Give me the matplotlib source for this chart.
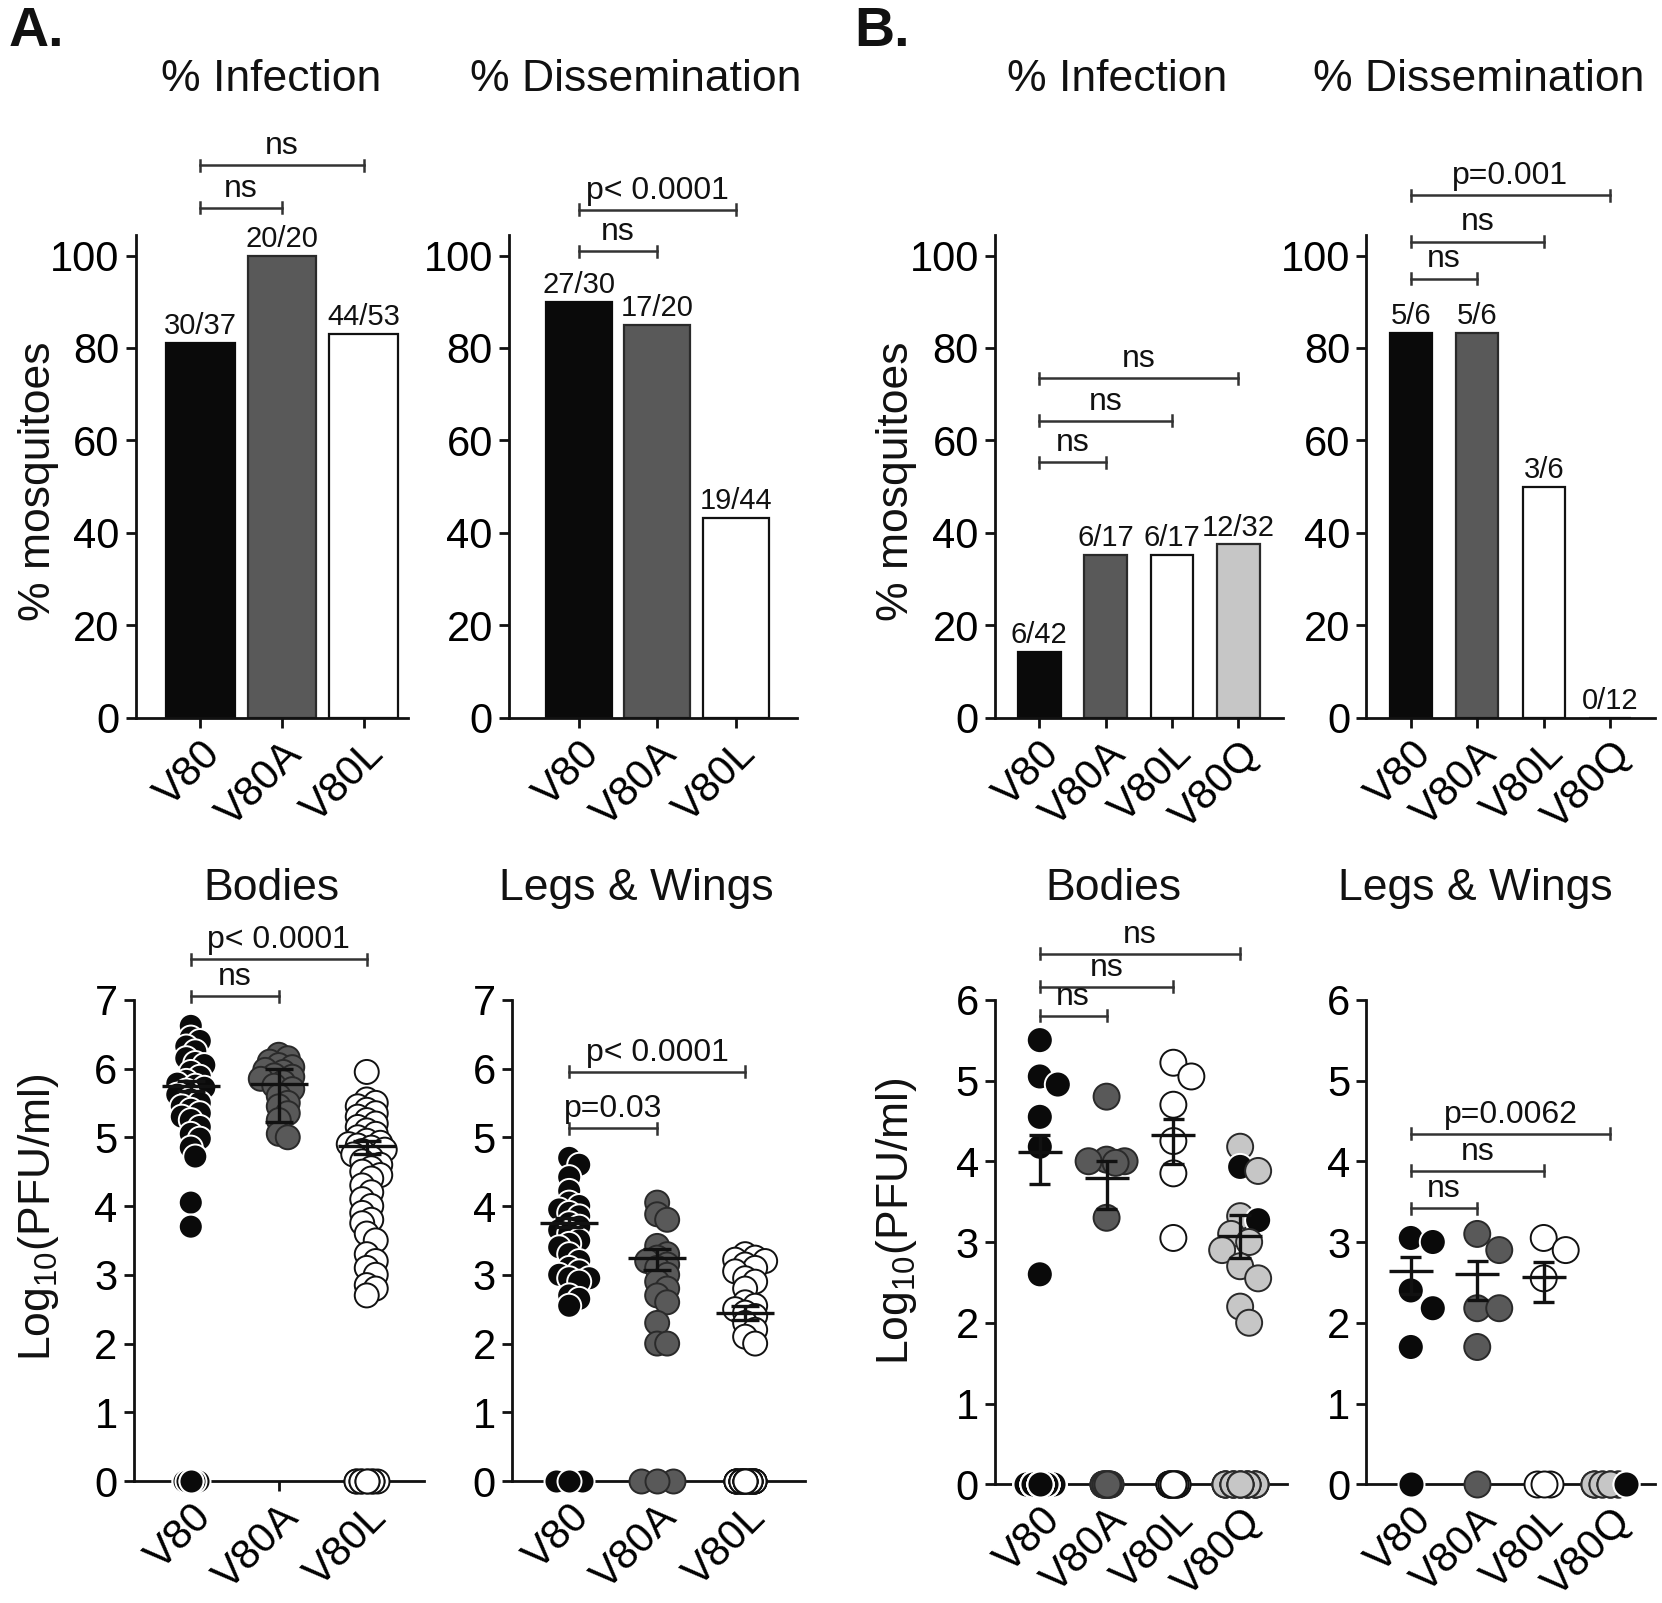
import numpy as np
import matplotlib.pyplot as plt

plt.rcParams['font.family'] = ['Liberation Sans', 'DejaVu Sans']
plt.rcParams['mathtext.fontset'] = 'custom'
plt.rcParams['mathtext.rm'] = 'Liberation Sans'

W, H = 1662, 1603
DW, DH = 1568, 1512  # layout measured on this scale

groups3 = ['V80', 'V80A', 'V80L']
groups4 = ['V80', 'V80A', 'V80L', 'V80Q']
fill = {'k': '#0a0a0a', 'd': '#595959', 'w': '#ffffff', 'q': '#c6c6c6'}
edge = {'k': '#ffffff', 'd': '#2a2a2a', 'w': '#111111', 'q': '#2a2a2a'}
bar_edge = {'k': '#0a0a0a', 'd': '#2a2a2a', 'w': '#111111', 'q': '#2a2a2a'}
col3 = ['k', 'd', 'w']
col4 = ['k', 'd', 'w', 'q']

# bar panels: infected / total
a_inf_num = [30, 20, 44]
a_inf_den = [37, 20, 53]
a_dis_num = [27, 17, 19]
a_dis_den = [30, 20, 44]
b_inf_num = [6, 6, 6, 12]
b_inf_den = [42, 17, 17, 32]
b_dis_num = [5, 5, 3, 0]
b_dis_den = [6, 6, 6, 12]

# significance brackets (from group 0 to group j, height, label)
a_inf_sig = [(1, 110.3, 'ns'), (2, 119.5, 'ns')]
a_dis_sig = [(1, 100.9, 'ns'), (2, 109.9, 'p< 0.0001')]
b_inf_sig = [(1, 55.3, 'ns'), (2, 64.2, 'ns'), (3, 73.4, 'ns')]
b_dis_sig = [(1, 95.0, 'ns'), (2, 103.0, 'ns'), (3, 113.0, 'p=0.001')]

# titers, log10 PFU/ml (positives) and number of zeros
a_bod_v80 = [6.62, 6.45, 6.40, 6.32, 6.25, 6.15, 6.08, 6.05, 5.95, 5.88, 5.82, 5.78, 5.75,
             5.72, 5.68, 5.62, 5.55, 5.5, 5.45, 5.4, 5.35, 5.3, 5.25, 5.15, 5.05, 4.98,
             4.85, 4.72, 4.05, 3.7]
a_bod_v80a = [6.2, 6.15, 6.1, 6.05, 6.02, 5.98, 5.95, 5.9, 5.88, 5.85, 5.8, 5.75, 5.7,
              5.6, 5.5, 5.45, 5.35, 5.25, 5.05, 5.0]
a_bod_v80l = [5.95, 5.55, 5.5, 5.45, 5.4, 5.35, 5.3, 5.25, 5.2, 5.15, 5.1, 5.05, 5.0,
              4.95, 4.92, 4.9, 4.88, 4.85, 4.82, 4.8, 4.75, 4.7, 4.65, 4.6, 4.55, 4.5,
              4.45, 4.4, 4.3, 4.2, 4.1, 4.0, 3.9, 3.8, 3.75, 3.6, 3.5, 3.3, 3.2, 3.1,
              3.0, 2.85, 2.8, 2.7]
a_bod_zeros = [7, 0, 9]
a_bod_mean = [5.75, 5.78, 4.88]
a_bod_lo = [5.68, 5.22, 4.76]
a_bod_hi = [5.82, 6.0, 4.95]
a_bod_sig = [(1, 7.05, 'ns'), (2, 7.59, 'p< 0.0001')]

a_lw_v80 = [4.7, 4.6, 4.42, 4.22, 4.05, 4.0, 3.95, 3.9, 3.85, 3.75, 3.7, 3.65, 3.6, 3.5,
            3.45, 3.4, 3.3, 3.2, 3.1, 3.05, 3.0, 2.95, 2.95, 2.9, 2.7, 2.65, 2.55]
a_lw_v80a = [4.05, 3.88, 3.8, 3.42, 3.3, 3.25, 3.2, 3.15, 3.1, 3.0, 2.9, 2.8, 2.7, 2.6,
             2.3, 2.0, 2.0]
a_lw_v80l = [3.3, 3.25, 3.22, 3.2, 3.15, 3.1, 3.05, 2.95, 2.9, 2.8, 2.6, 2.55, 2.5, 2.45,
             2.4, 2.3, 2.2, 2.1, 2.0]
a_lw_zeros = [3, 3, 25]
a_lw_mean = [3.76, 3.25, 2.44]
a_lw_lo = [3.70, 3.07, 2.34]
a_lw_hi = [3.82, 3.38, 2.55]
a_lw_sig = [(1, 5.13, 'p=0.03'), (2, 5.95, 'p< 0.0001')]

b_bod_v80 = [5.5, 5.05, 4.95, 4.55, 4.18, 2.6]
b_bod_v80a = [4.8, 4.02, 4.0, 4.0, 3.98, 3.3]
b_bod_v80l = [5.22, 5.05, 4.7, 4.25, 3.85, 3.05]
b_bod_v80q = [4.18, 3.93, 3.88, 3.32, 3.27, 3.1, 3.0, 2.9, 2.7, 2.55, 2.2, 2.0]
b_bod_v80q_col = ['q', 'k', 'q', 'q', 'k', 'q', 'q', 'q', 'q', 'q', 'q', 'q']
b_bod_zeros = [36, 11, 11, 20]
b_bod_mean = [4.12, 3.79, 4.33, 3.07]
b_bod_lo = [3.72, 3.41, 3.97, 2.80]
b_bod_hi = [4.32, 4.00, 4.52, 3.34]
b_bod_sig = [(1, 5.8, 'ns'), (2, 6.16, 'ns'), (3, 6.57, 'ns')]

b_lw_v80 = [3.05, 3.0, 2.4, 2.18, 1.7]
b_lw_v80a = [3.1, 2.9, 2.18, 2.18, 1.7]
b_lw_v80l = [3.05, 2.9, 2.55]
b_lw_v80q = []
b_lw_zeros = [1, 1, 3, 12]
b_lw_v80q_zero_col = ['q'] * 10 + ['k'] * 2
b_lw_mean = [2.64, 2.60, 2.57]
b_lw_lo = [2.36, 2.28, 2.26]
b_lw_hi = [2.81, 2.77, 2.75]
b_lw_sig = [(1, 3.42, 'ns'), (2, 3.88, 'ns'), (3, 4.34, 'p=0.0062')]

fig = plt.figure(figsize=(W / 100, H / 100), dpi=100)


def make_ax(spine_x, c0, dx, names, right_x, y0, ytop, ylim, yticks):
    n = len(names)
    ax = fig.add_axes([spine_x / DW, 1 - y0 / DH, (right_x - spine_x) / DW, (y0 - ytop) / DH])
    ax.set_xlim(-(c0 - spine_x) / dx, (right_x - c0) / dx)
    ax.set_ylim(*ylim)
    for s in ['top', 'right']:
        ax.spines[s].set_visible(False)
    for s in ['left', 'bottom']:
        ax.spines[s].set_linewidth(2.0)
        ax.spines[s].set_color('#111111')
    ax.set_yticks(yticks)
    ax.set_xticks(range(n))
    ax.set_xticklabels(names, rotation=45, ha='right', va='top', rotation_mode='anchor')
    ax.tick_params(width=2.0, length=7.5, labelsize=30, color='#111111', pad=4)
    ax.tick_params(axis='x', pad=4)
    ax.patch.set_alpha(0)
    return ax


def px_per_unit(ax):
    p0 = ax.transData.transform((0, 0))
    p1 = ax.transData.transform((1, 1))
    return p1[0] - p0[0], p1[1] - p0[1]


def brackets(ax, sig):
    _, ypp = px_per_unit(ax)
    h = 5.5 / ypp
    for j, y, lab in sig:
        ax.plot([0, j], [y, y], color='#333333', lw=1.8, clip_on=False)
        for xx in (0, j):
            ax.plot([xx, xx], [y - h, y + h], color='#333333', lw=1.8, clip_on=False)
        ax.annotate(lab, (j / 2, y), xytext=(0, 3), textcoords='offset points',
                    ha='center', va='bottom', fontsize=23, color='#111111',
                    annotation_clip=False)


def bar_panel(ax, num, den, cols, width):
    pct = [100 * a / b for a, b in zip(num, den)]
    for i, (p, c) in enumerate(zip(pct, cols)):
        ax.bar(i, p, width=width, color=fill[c], edgecolor=bar_edge[c], linewidth=1.6, zorder=2)
        ax.annotate(f'{num[i]}/{den[i]}', (i, p), xytext=(0, 2), textcoords='offset points',
                    ha='center', va='bottom', fontsize=21, color='#111111')


def swarm(vals, xpp, ypp, sep, maxw):
    placed, offs = [], []
    step = sep * 0.5
    for v in vals:
        y = v * ypp
        cands = [0.0]
        k = 1
        while k * step <= maxw:
            cands += [k * step, -k * step]
            k += 1
        best, bestd = 0.0, -1.0
        for c in cands:
            d = min([np.hypot(c - px, y - py) for px, py in placed], default=1e9)
            if d >= sep:
                best = c
                break
            if d > bestd:
                best, bestd = c, d
        placed.append((best, y))
        offs.append(best / xpp)
    return offs


def zero_row(ax, i, n, cols, zw, s):
    # zeros sit in one row; outer ones first so the centre one is on top,
    # points of another colour (revertants) drawn last
    m = min(n, 5)
    spots = np.linspace(-zw, zw, m) if m > 1 else np.zeros(1)
    xs = np.array([spots[k * m // n] for k in range(n)])
    order = sorted(range(n), key=lambda k: (cols[k] != cols[0], -abs(xs[k])))
    for k in order:
        c = cols[k]
        ax.scatter(i + xs[k], 0, s=s, c=fill[c], edgecolors=edge[c], linewidths=1.4,
                   clip_on=False, zorder=3)


def dot_panel(ax, pos, pos_cols, zeros, zero_cols, mean, lo, hi, diam, sep, maxw, zws):
    xpp, ypp = px_per_unit(ax)
    s = (diam * 72 / 100) ** 2
    for i in range(len(pos)):
        if zeros[i]:
            zero_row(ax, i, zeros[i], zero_cols[i][:zeros[i]], zws[i], s)
        if len(pos[i]):
            offs = swarm(pos[i], xpp, ypp, sep, maxw * xpp)
            pc = pos_cols[i][:len(pos[i])]
            ax.scatter(i + np.array(offs), pos[i], s=s, c=[fill[c] for c in pc],
                       edgecolors=[edge[c] for c in pc], linewidths=1.4, clip_on=False, zorder=4)
    for i in range(len(mean)):
        ax.hlines(mean[i], i - 0.33, i + 0.33, color='#111111', lw=2.4, zorder=5)
        ax.vlines(i, lo[i], hi[i], color='#111111', lw=2.4, zorder=5)
        ax.hlines([lo[i], hi[i]], i - 0.16, i + 0.16, color='#111111', lw=2.4, zorder=5)


# top row: bar charts
top = (677, 677 - 4.36 * 104.5, (0, 104.5), range(0, 101, 20))
ax = make_ax(128, 189, 77, groups3, 385, *top)
bar_panel(ax, a_inf_num, a_inf_den, col3, 0.84)
brackets(ax, a_inf_sig)

ax = make_ax(480, 546, 74, groups3, 752, *top)
bar_panel(ax, a_dis_num, a_dis_den, col3, 0.84)
brackets(ax, a_dis_sig)

ax = make_ax(938.5, 980.5, 62.6, groups4, 1210, *top)
bar_panel(ax, b_inf_num, b_inf_den, col4, 0.64)
brackets(ax, b_inf_sig)

ax = make_ax(1289, 1331, 62.7, groups4, 1561, *top)
bar_panel(ax, b_dis_num, b_dis_den, col4, 0.63)
brackets(ax, b_dis_sig)

# bottom row: titers
a_rows = (1397, 943, (0, 7), range(0, 8))
b_rows = (1400, 943, (0, 6), range(0, 7))

ax = make_ax(126, 180, 83, groups3, 400, *a_rows)
dot_panel(ax, [a_bod_v80, a_bod_v80a, a_bod_v80l],
          [[c] * 60 for c in col3], a_bod_zeros, [[c] * 60 for c in col3],
          a_bod_mean, a_bod_lo, a_bod_hi, 24, 9, 0.24, [0.08, 0, 0.12])
brackets(ax, a_bod_sig)

ax = make_ax(483, 537, 83, groups3, 759, *a_rows)
dot_panel(ax, [a_lw_v80, a_lw_v80a, a_lw_v80l],
          [[c] * 60 for c in col3], a_lw_zeros, [[c] * 60 for c in col3],
          a_lw_mean, a_lw_lo, a_lw_hi, 24, 10, 0.26, [0.15, 0.18, 0.1])
brackets(ax, a_lw_sig)

ax = make_ax(938.5, 981, 63, groups4, 1214, *b_rows)
dot_panel(ax, [b_bod_v80, b_bod_v80a, b_bod_v80l, b_bod_v80q],
          [['k'] * 6, ['d'] * 6, ['w'] * 6, b_bod_v80q_col], b_bod_zeros,
          [[c] * 60 for c in col4], b_bod_mean, b_bod_lo, b_bod_hi, 26, 18, 0.4,
          [0.2, 0.05, 0.06, 0.22])
brackets(ax, b_bod_sig)

ax = make_ax(1289, 1331, 62.7, groups4, 1561, *b_rows)
dot_panel(ax, [b_lw_v80, b_lw_v80a, b_lw_v80l, b_lw_v80q],
          [['k'] * 6, ['d'] * 6, ['w'] * 6, []], b_lw_zeros,
          [['k'], ['d'], ['w'] * 3, b_lw_v80q_zero_col], b_lw_mean, b_lw_lo, b_lw_hi,
          26, 22, 0.4, [0, 0, 0.1, 0.24])
brackets(ax, b_lw_sig)


# titles and labels
def ftext(x, y, s, **kw):
    fig.text(x / DW, 1 - y / DH, s, ha='center', va='center', color='#111111', **kw)


ftext(34, 30, 'A.', fontsize=40, fontweight='bold')
ftext(832, 30, 'B.', fontsize=40, fontweight='bold')
for x, t in [(256, '% Infection'), (600, '% Dissemination'),
             (1054, '% Infection'), (1395, '% Dissemination')]:
    ftext(x, 75, t, fontsize=32)
for x, t in [(256, 'Bodies'), (600, 'Legs & Wings'), (1050, 'Bodies'), (1392, 'Legs & Wings')]:
    ftext(x, 838, t, fontsize=32)
ftext(36, 454, '% mosquitoes', fontsize=32, rotation=90)
ftext(846, 454, '% mosquitoes', fontsize=32, rotation=90)
ftext(36, 1148, 'Log$_{10}$(PFU/ml)', fontsize=32, rotation=90)
ftext(846, 1152, 'Log$_{10}$(PFU/ml)', fontsize=32, rotation=90)

fig.savefig('out.png', dpi=100)
